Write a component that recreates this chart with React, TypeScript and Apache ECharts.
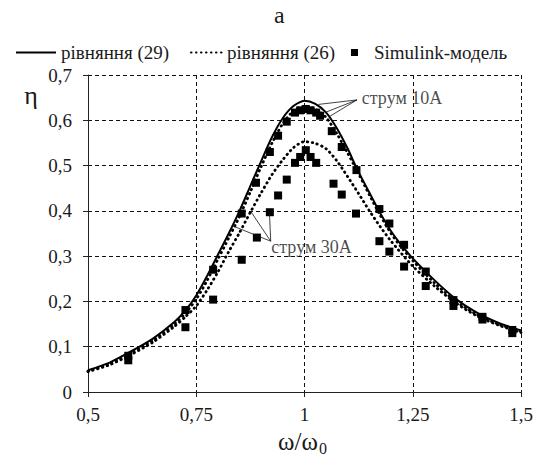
import React, { useEffect, useRef } from "react";
import * as echarts from "echarts";

// ---- data ----
// equation (29): solid curve
const eq29: number[][] = [
  [0.5, 0.048], [0.55, 0.065], [0.6, 0.09], [0.65, 0.118], [0.7, 0.155],
  [0.725, 0.18], [0.75, 0.213], [0.775, 0.256], [0.8, 0.303], [0.825, 0.35],
  [0.85, 0.4], [0.875, 0.455], [0.9, 0.51], [0.925, 0.563], [0.95, 0.605],
  [0.975, 0.632], [1.0, 0.643], [1.025, 0.636], [1.05, 0.617], [1.075, 0.582],
  [1.1, 0.537], [1.12, 0.495], [1.15, 0.44], [1.175, 0.395], [1.2, 0.355],
  [1.225, 0.323], [1.25, 0.295], [1.3, 0.247], [1.35, 0.205], [1.4, 0.174],
  [1.45, 0.152], [1.5, 0.136],
];
// equation (26), current 10 A: dotted curve
const eq26a10: number[][] = [
  [0.5, 0.046], [0.55, 0.063], [0.6, 0.087], [0.65, 0.114], [0.7, 0.15],
  [0.725, 0.174], [0.75, 0.205], [0.775, 0.246], [0.8, 0.293], [0.825, 0.34],
  [0.85, 0.388], [0.875, 0.442], [0.9, 0.498], [0.925, 0.55], [0.95, 0.593],
  [0.975, 0.621], [1.0, 0.631], [1.025, 0.625], [1.05, 0.606], [1.075, 0.57],
  [1.1, 0.527], [1.125, 0.482], [1.15, 0.435], [1.175, 0.39], [1.2, 0.35],
  [1.225, 0.318], [1.25, 0.29], [1.3, 0.241], [1.35, 0.2], [1.4, 0.17],
  [1.45, 0.149], [1.5, 0.134],
];
// equation (26), current 30 A: dotted curve
const eq26a30: number[][] = [
  [0.5, 0.045], [0.55, 0.06], [0.6, 0.083], [0.65, 0.11], [0.7, 0.145],
  [0.725, 0.166], [0.75, 0.19], [0.775, 0.225], [0.8, 0.265], [0.825, 0.31],
  [0.85, 0.352], [0.875, 0.397], [0.9, 0.44], [0.925, 0.48], [0.95, 0.513],
  [0.975, 0.54], [1.0, 0.553], [1.025, 0.549], [1.05, 0.537], [1.075, 0.51],
  [1.1, 0.475], [1.125, 0.438], [1.15, 0.4], [1.175, 0.365], [1.2, 0.333],
  [1.25, 0.278], [1.3, 0.234], [1.35, 0.196], [1.4, 0.167], [1.45, 0.147],
  [1.5, 0.131],
];
// Simulink model, 10 A
const sim10: number[][] = [
  [0.593, 0.08], [0.725, 0.181], [0.789, 0.27], [0.855, 0.394], [0.888, 0.462],
  [0.92, 0.53], [0.939, 0.566], [0.959, 0.597], [0.978, 0.617], [0.99, 0.622],
  [1.003, 0.625], [1.014, 0.622], [1.027, 0.617], [1.036, 0.61], [1.063, 0.576],
  [1.086, 0.541], [1.12, 0.49], [1.173, 0.404], [1.196, 0.372], [1.23, 0.325],
  [1.28, 0.266], [1.344, 0.203], [1.411, 0.166], [1.48, 0.137],
];
// Simulink model, 30 A
const sim30: number[][] = [
  [0.593, 0.07], [0.725, 0.143], [0.789, 0.204], [0.855, 0.292], [0.89, 0.341],
  [0.92, 0.397], [0.939, 0.434], [0.959, 0.469], [0.978, 0.506], [0.99, 0.519],
  [1.003, 0.534], [1.014, 0.519], [1.027, 0.506], [1.067, 0.46], [1.086, 0.436],
  [1.119, 0.394], [1.173, 0.333], [1.196, 0.31], [1.23, 0.277], [1.28, 0.234],
  [1.344, 0.19], [1.411, 0.16], [1.48, 0.13],
];
// annotation labels (data coords of the text anchor)
const annotTexts = ["струм 10А", "струм 30А"];
const annotAnchors: number[][] = [[1.13, 0.649], [0.921, 0.32]];
// annotation leader lines [x1, y1, x2, y2]
const annotLines: number[][] = [
  [1.121, 0.645, 1.032, 0.635],
  [1.121, 0.645, 1.047, 0.617],
  [1.121, 0.645, 1.057, 0.608],
  [0.922, 0.333, 0.836, 0.366],
  [0.922, 0.333, 0.875, 0.4],
  [0.922, 0.333, 0.919, 0.396],
];
const xTicks = [0.5, 0.75, 1, 1.25, 1.5];
const xTickLabels = ["0,5", "0,75", "1", "1,25", "1,5"];
const yTicks = [0, 0.1, 0.2, 0.3, 0.4, 0.5, 0.6, 0.7];
const yTickLabels = ["0", "0,1", "0,2", "0,3", "0,4", "0,5", "0,6", "0,7"];
const legendNames = ["рівняння (29)", "рівняння (26)", "Simulink-модель"];
const titleText = "а";

const FONT = "Liberation Serif";
const TXT = "#1a1a1a";

function lookup(ticks: number[], labels: string[], v: number) {
  const i = ticks.findIndex((t) => Math.abs(t - v) < 1e-6);
  return i >= 0 ? labels[i] : "";
}

export default function App() {
  const ref = useRef<HTMLDivElement>(null);
  useEffect(() => {
    if (!ref.current) return;
    const chart = echarts.init(ref.current, null, { renderer: "svg" });
    const dotted = { color: "#000", width: 2.8, type: [0.5, 4.5] as any, cap: "round" as any };
    const legendText = { fontFamily: FONT, fontSize: 19, color: TXT };
    chart.setOption({
      animation: false,
      backgroundColor: "#fff",
      textStyle: { fontFamily: FONT },
      title: {
        text: titleText,
        left: 274,
        top: 3,
        padding: 0,
        textStyle: { fontFamily: FONT, fontSize: 24, fontWeight: "normal", color: TXT },
      },
      legend: [
        {
          data: [legendNames[0]],
          left: 15, top: 43, padding: 0, itemWidth: 40, itemHeight: 14,
          itemStyle: { opacity: 0 },
          textStyle: legendText,
        },
        {
          data: [legendNames[1]],
          left: 190, top: 43, padding: 0, itemWidth: 31, itemHeight: 14,
          itemStyle: { opacity: 0 },
          textStyle: legendText,
        },
        {
          data: [legendNames[2]],
          left: 351, top: 43, padding: 0, itemWidth: 7, itemHeight: 7,
          textStyle: { ...legendText, padding: [0, 0, 0, 11] },
        },
      ],
      grid: { left: 88, right: 20, top: 75, bottom: 63, containLabel: false },
      xAxis: {
        type: "value",
        min: 0.5,
        max: 1.5,
        interval: 0.25,
        axisLine: { show: true, lineStyle: { color: "#222", width: 1 } },
        axisTick: { show: true, length: 5, lineStyle: { color: "#222" } },
        axisLabel: {
          margin: 13,
          fontFamily: FONT,
          fontSize: 19,
          color: TXT,
          formatter: (v: number) => lookup(xTicks, xTickLabels, v),
        },
        splitLine: { show: true, lineStyle: { color: "#111", type: [4, 3], width: 1 } },
      },
      yAxis: {
        type: "value",
        min: 0,
        max: 0.7,
        interval: 0.1,
        axisLine: { show: true, lineStyle: { color: "#222", width: 1 } },
        axisTick: { show: true, length: 5, lineStyle: { color: "#222" } },
        axisLabel: {
          margin: 16,
          fontFamily: FONT,
          fontSize: 19,
          color: TXT,
          formatter: (v: number) => lookup(yTicks, yTickLabels, v),
        },
        splitLine: { show: true, lineStyle: { color: "#111", type: [4, 3], width: 1 } },
      },
      graphic: [
        {
          type: "text",
          x: 31,
          y: 95,
          style: {
            text: "η",
            fontFamily: FONT,
            fontSize: 26,
            fill: TXT,
            textAlign: "center",
            textVerticalAlign: "middle",
          },
        },
        {
          type: "text",
          x: 298,
          y: 441,
          style: {
            text: "ω/ω",
            fontFamily: FONT,
            fontSize: 25,
            fill: TXT,
            textAlign: "center",
            textVerticalAlign: "middle",
          },
        },
        {
          type: "text",
          x: 319,
          y: 448,
          style: {
            text: "0",
            fontFamily: FONT,
            fontSize: 16,
            fill: TXT,
            textAlign: "left",
            textVerticalAlign: "middle",
          },
        },
      ],
      series: [
        {
          name: legendNames[0],
          type: "line",
          data: eq29,
          smooth: 0.25,
          symbol: "none",
          lineStyle: { color: "#000", width: 2 },
          itemStyle: { color: "#000" },
          z: 3,
        },
        {
          name: legendNames[1],
          type: "line",
          data: eq26a10,
          smooth: 0.25,
          symbol: "none",
          lineStyle: dotted,
          itemStyle: { color: "#000" },
          z: 2,
        },
        {
          name: legendNames[1],
          type: "line",
          data: eq26a30,
          smooth: 0.25,
          symbol: "none",
          lineStyle: dotted,
          itemStyle: { color: "#000" },
          z: 2,
        },
        {
          name: legendNames[2],
          type: "scatter",
          data: sim10,
          symbol: "rect",
          symbolSize: 8,
          itemStyle: { color: "#000", opacity: 1 },
          z: 4,
        },
        {
          name: legendNames[2],
          type: "scatter",
          data: sim30,
          symbol: "rect",
          symbolSize: 8,
          itemStyle: { color: "#000", opacity: 1 },
          z: 4,
        },
        {
          name: "annotations",
          type: "scatter",
          symbolSize: 0,
          silent: true,
          data: annotAnchors.map((p, i) => ({ value: p, name: annotTexts[i] })),
          label: {
            show: true,
            position: "right",
            distance: 1,
            formatter: (p: any) => p.name,
            fontFamily: FONT,
            fontSize: 18,
            color: TXT,
          },
          markLine: {
            silent: true,
            symbol: ["none", "none"],
            label: { show: false },
            lineStyle: { color: "#111", width: 0.8, type: "solid" },
            data: annotLines.map(([x1, y1, x2, y2]) => [
              { coord: [x1, y1] },
              { coord: [x2, y2] },
            ]),
          },
          z: 5,
        },
      ],
    });
    return () => chart.dispose();
  }, []);
  return (
    <div
      ref={ref}
      style={{ position: "fixed", left: 0, top: 0, width: 541, height: 455, background: "#fff" }}
    />
  );
}
